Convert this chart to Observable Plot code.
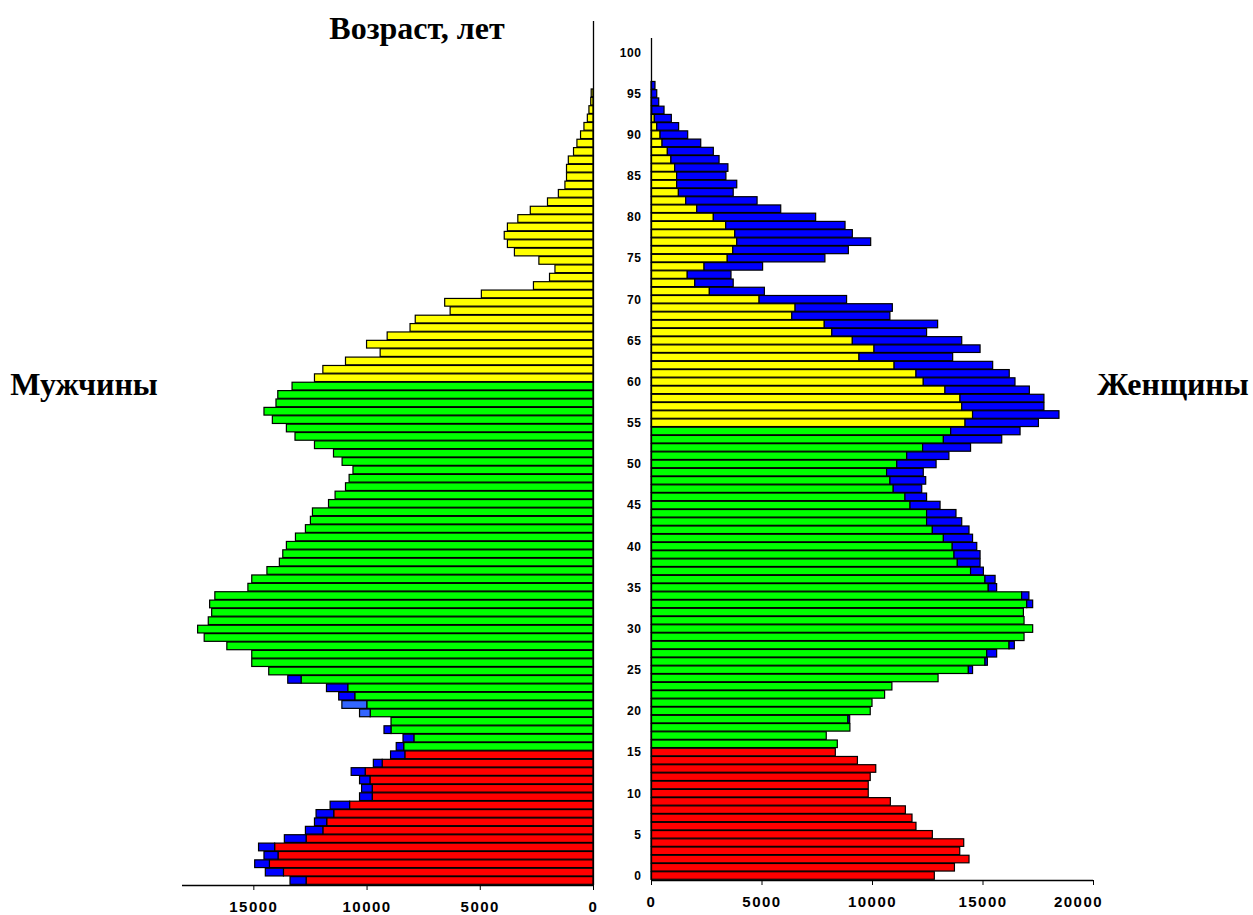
<!DOCTYPE html>
<html><head><meta charset="utf-8">
<script src="https://cdn.jsdelivr.net/npm/d3@7"></script>
<script src="https://cdn.jsdelivr.net/npm/@observablehq/plot@0.6"></script>
<style>
html,body{margin:0;padding:0;background:#fff;}
#wrap{position:relative;width:1253px;height:915px;overflow:hidden;background:#fff;}
#wrap > svg{position:absolute;}
</style></head><body><div id="wrap"></div>
<script>
// ---- Data (persons by single year of age) ----
const maleMain = [12670,13670,14290,13910,14060,12670,11930,11760,11450,10750,
 9750,9750,9850,10060,9310,8310,8360,7910,8920,8920,
 9840,9990,10520,10830,12890,14320,15070,15070,16170,17170,
 17460,16990,16840,16930,16700,15240,15070,14400,13850,13700,
 13540,13140,12700,12480,12390,11680,11390,10930,10770,10600,
 11080,11460,12300,13160,13540,14160,14530,14000,13920,13290,
 12300,11930,10930,9400,10000,9090,8080,7850,6310,6550,
 4930,2630,1920,1680,2390,3470,3780,3920,3780,3320,
 2770,2010,1530,1240,1170,1170,1090,860,710,550,
 400,250,180,100,80];
const maleExtra = [710,800,650,620,710,960,770,540,780,860,
 560,470,460,620,390,630,330,480,310,0,
 470,1100,710,940,590];
const maleExtraLightAges = [20, 21];
const femaleMain = [12820,13730,14390,13970,14150,12730,11990,11810,11510,10830,
 9830,9830,9920,10170,9340,8340,8430,7930,9000,8910,
 9920,10000,10570,10900,12990,14360,15110,15190,16200,16880,
 17270,16880,16850,17000,16770,15260,15110,14460,13860,13710,
 13630,13230,12730,12470,12470,11720,11490,10960,10810,10660,
 11120,11570,12290,13230,13560,14210,14550,14060,13980,13300,
 12320,11990,11000,9410,10090,9110,8180,7840,6370,6520,
 4890,2640,1980,1640,2400,3450,3700,3880,3790,3380,
 2820,2070,1570,1240,1160,1160,1070,900,740,500,
 410,260,150,30];
const femaleExtra = [0,0,0,0,0,0,0,0,0,0,
 0,0,0,0,0,0,0,0,0,80,
 0,0,0,0,0,190,110,450,240,0,
 0,0,0,270,330,380,460,580,1030,1180,
 1110,1320,1660,1590,1330,1360,980,1290,1620,1660,
 1780,1910,2170,2640,3140,3320,3910,3720,3800,3820,
 4150,4220,4460,4240,4800,4950,4290,5130,4440,4400,
 3960,2490,1740,1980,2650,4420,5230,6060,5320,5400,
 4630,3800,3230,2480,2720,2230,2410,2180,2080,1750,
 1250,990,770,560,350,260,180];
const childMaxAge = 15;
const maleWorkMaxAge = 59;
const femaleWorkMaxAge = 54;
const xTicksLeft = [0, 5000, 10000, 15000];
const xTicksRight = [0, 5000, 10000, 15000, 20000];
const yTicks = d3.range(0, 101, 5);
const titleText = "Возраст, лет";
const maleLabel = "Мужчины";
const femaleLabel = "Женщины";

// ---- build rows ----
const keys = ["child", "work", "old", "extra", "extraLight"];
const palette = ["#ff0000", "#00ff00", "#ffff00", "#0000ff", "#3366ff"];
function buildRows(main, extra, workMax, lightAges) {
  const rows = [];
  const n = Math.max(main.length, extra.length);
  for (let age = 0; age < n; age++) {
    const m = main[age] || 0, e = extra[age] || 0;
    const key = age <= childMaxAge ? "child" : age <= workMax ? "work" : "old";
    if (m > 0) rows.push({age, x1: 0, x2: m, key});
    if (e > 0) rows.push({age, x1: m, x2: m + e, key: lightAges.includes(age) ? "extraLight" : "extra"});
  }
  return rows;
}
const maleRows = buildRows(maleMain, maleExtra, maleWorkMaxAge, maleExtraLightAges);
const femaleRows = buildRows(femaleMain, femaleExtra, femaleWorkMaxAge, []);

const baseStyle = {fontFamily: "'Liberation Sans', Arial, sans-serif", fontSize: "12px", fontWeight: "bold", background: "transparent", color: "#000"};
const barOpts = {x1: "x1", x2: "x2", y1: d => d.age - 0.46, y2: d => d.age + 0.46, fill: "key", stroke: "#000", strokeWidth: 1.2};

const leftY0 = -0.54;
const left = Plot.plot({
  width: 600, height: 915,
  marginLeft: 182, marginRight: 7, marginTop: 21, marginBottom: 30,
  style: baseStyle,
  x: {domain: [0, 18150], reverse: true, ticks: xTicksLeft, tickFormat: d3.format("d"), tickSize: 5, tickPadding: 11, label: null},
  y: {domain: [leftY0, 102.57], axis: null},
  color: {domain: keys, range: palette},
  marks: [
    Plot.rect(maleRows, barOpts),
    Plot.ruleX([0], {stroke: "#000", strokeWidth: 1.3}),
    Plot.ruleY([leftY0], {stroke: "#000", strokeWidth: 1.3})
  ]
});

const rightY0 = -0.547;
const right = Plot.plot({
  width: 653, height: 915,
  marginLeft: 51, marginRight: 160, marginTop: 38, marginBottom: 35,
  style: baseStyle,
  x: {domain: [0, 20000], ticks: xTicksRight, tickFormat: d3.format("d"), tickSize: 5, tickPadding: 11, label: null},
  y: {domain: [rightY0, 101.74], ticks: yTicks, tickSize: 0, tickPadding: 10, label: null, tickFormat: d3.format("d")},
  color: {domain: keys, range: palette},
  marks: [
    Plot.rect(femaleRows, barOpts),
    Plot.ruleX([0], {stroke: "#000", strokeWidth: 1.3}),
    Plot.ruleY([rightY0], {stroke: "#000", strokeWidth: 1.3})
  ]
});

const wrap = document.getElementById("wrap");
left.style.left = "0px"; left.style.top = "0px";
right.style.left = "600px"; right.style.top = "0px";
wrap.appendChild(left);
wrap.appendChild(right);

for (const svg of [left, right]) {
  svg.querySelectorAll('[aria-label^="x-axis"] text').forEach(t => {
    t.style.fontSize = "15px";
    t.style.letterSpacing = "1.5px";
    if (t.textContent === "20000") t.setAttribute("dx", "-15");
  });
  svg.querySelectorAll('[aria-label^="y-axis"] text').forEach(t => {
    t.style.fontSize = "12px";
    t.style.letterSpacing = "0.6px";
  });
}

// ---- titles ----
const ns = "http://www.w3.org/2000/svg";
const over = document.createElementNS(ns, "svg");
over.setAttribute("width", 1253); over.setAttribute("height", 915);
over.style.left = "0px"; over.style.top = "0px"; over.style.pointerEvents = "none";
function addText(str, x, y, anchor) {
  const t = document.createElementNS(ns, "text");
  t.setAttribute("x", x); t.setAttribute("y", y);
  t.setAttribute("text-anchor", anchor);
  t.setAttribute("font-family", "'Liberation Serif', 'Times New Roman', serif");
  t.setAttribute("font-weight", "bold");
  t.setAttribute("font-size", "32");
  t.textContent = str;
  over.appendChild(t);
}
addText(titleText, 417, 39, "middle");
addText(maleLabel, 84, 395, "middle");
addText(femaleLabel, 1173, 395, "middle");
wrap.appendChild(over);
</script></body></html>
